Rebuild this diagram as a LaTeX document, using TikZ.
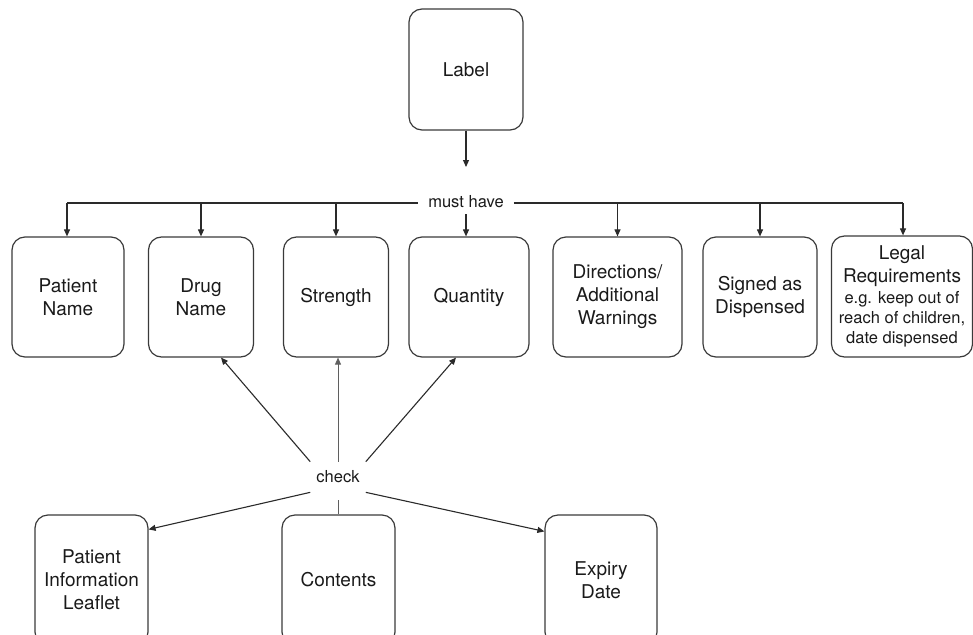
\documentclass[tikz,border=0pt]{standalone}
\usepackage{fontspec}
\setmainfont{TeX Gyre Heros}
\usetikzlibrary{arrows.meta}
\definecolor{ink}{HTML}{1A1A1A}
\definecolor{edge}{HTML}{3A3A3A}
\definecolor{wire}{HTML}{2A2A2A}
\newcommand{\boxfont}{\fontsize{19}{23}\selectfont}
\newcommand{\notefont}{\fontsize{16.5}{20}\selectfont}
\begin{document}
\begin{tikzpicture}[x=1pt,y=-1pt,
  box/.style={draw=edge, line width=1.2pt, rounded corners=13pt, align=center,
    inner sep=0pt, text=ink, font=\boxfont},
  tag/.style={text=ink, font=\fontsize{16.5}{20}\selectfont, fill=white},
  arr/.style={draw=wire, line width=1.1pt, -{Triangle[length=7pt,width=6pt]}},
  wirel/.style={draw=wire, line width=1.1pt},
  faint/.style={draw=wire!75, line width=0.75pt},
]
\useasboundingbox (0,0) rectangle (973,634);
\clip (0,0) rectangle (973,634);

% top node
\node[box, minimum width=114pt, minimum height=121pt] (label) at (466,69.5) {Label};
\coordinate (labelend) at (466,167);

% first row: what a label must have
\node[box, minimum width=112pt, minimum height=120pt] (pn)  at (68,297)    {Patient\\Name};
\node[box, minimum width=105pt, minimum height=120pt] (dn)  at (201,297)   {Drug\\Name};
\node[box, minimum width=105pt, minimum height=120pt] (st)  at (336,297)   {Strength};
\node[box, minimum width=120pt, minimum height=120pt] (qu)  at (469,297)   {Quantity};
\node[box, minimum width=129pt, minimum height=120pt] (dir) at (617.5,297) {Directions/\\Additional\\Warnings};
\node[box, minimum width=114pt, minimum height=120pt] (sig) at (760,297)   {Signed as\\Dispensed};
\node[box, minimum width=141pt, minimum height=121pt] (leg) at (902,296.5)
  {Legal\\Requirements\\[-2pt]\notefont e.g. keep out of\\[-3pt]\notefont reach of children,\\[-3pt]\notefont date dispensed};

% bottom row: items to check
\node[box, minimum width=113pt, minimum height=130pt] (pil) at (91.5,580) {Patient\\Information\\Leaflet};
\node[box, minimum width=113pt, minimum height=130pt] (con) at (338.5,580) {Contents};
\node[box, minimum width=112pt, minimum height=130pt] (exp) at (601,580) {Expiry\\Date};

% "must have" bus
\node[tag, inner xsep=10pt, inner ysep=3pt] (mh) at (466,202) {must have};
\coordinate (busL) at (67,203);
\coordinate (busR) at (903,203);
\draw[wirel] (busL) -- (mh.west |- busL);
\draw[wirel] (mh.east |- busR) -- (busR);

\draw[arr] (label.south) -- (labelend);
\draw[arr] (busL) -- (busL |- pn.north);
\draw[arr] (dn.north |- busL) -- (dn.north);
\draw[arr] (st.north |- busL) -- (st.north);
\draw[arr, shorten <=3pt] (mh.south) -- (mh.south |- qu.north);
\draw[arr] (dir.north |- busR) -- (dir.north);
\draw[arr] (sig.north |- busR) -- (sig.north);
\draw[arr] (busR) -- (busR |- leg.north);

% "check" hub
\node[tag, inner xsep=6pt, inner ysep=9pt] (check) at (338,477) {check};
\draw[arr] (check.north west) -- ([xshift=20pt]dn.south);
\draw[arr, faint] (check.north) -- (check.north |- st.south);
\draw[arr] (check.north east) -- ([xshift=-13pt]qu.south);
\draw[arr] (check.south west) -- ([yshift=-15pt]pil.north east);
\draw[faint, shorten <=8pt] (check.south) -- (check.south |- con.north);
\draw[arr] (check.south east) -- ([yshift=-17pt]exp.north west);
\end{tikzpicture}
\end{document}
